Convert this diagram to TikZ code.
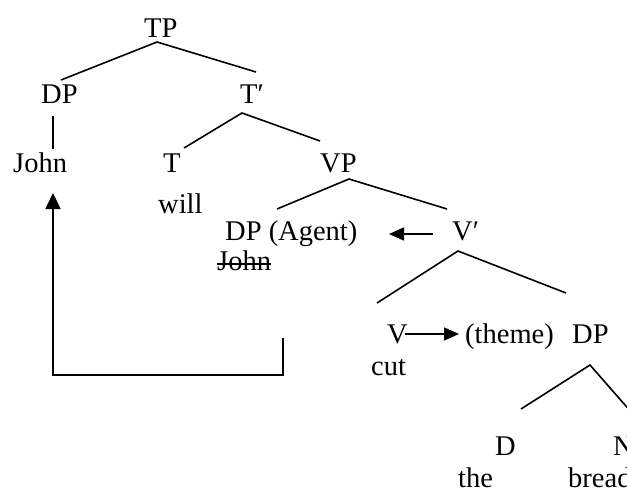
\documentclass[tikz,border=0pt]{standalone}
\usepackage{fontspec}
\setmainfont{Liberation Serif}
\usetikzlibrary{arrows.meta}
\tikzset{
  lab/.style={inner sep=0pt, anchor=base west, font=\fontsize{28.5}{34}\selectfont},
  branch/.style={line width=1.6pt},
  movearrow/.style={line width=1.6pt, -{Triangle[length=15pt,width=13pt]}},
  bigarrow/.style={line width=1.6pt, -{Triangle[length=16pt,width=15pt]}},
}
\begin{document}
\begin{tikzpicture}[x=1pt,y=-1pt]
\path[use as bounding box, clip] (0,0) rectangle (627,490);
\fill[white] (0,0) rectangle (627,490);
% labels
\node[lab] (tp) at (144,37) {TP};
\node[lab] (dp1) at (41,103) {DP};
\node[lab] (tbar) at (240,103) {T′};
\node[lab] (john) at (13,172) {John};
\node[lab] (t) at (163,172) {T};
\node[lab] (will) at (158,213) {will};
\node[lab] (vp) at (320,172) {VP};
\node[lab] (dpag) at (225,240) {DP (Agent)};
\node[lab] (john2) at (217,270) {John};
\node[lab] (vbar) at (452,240) {V′};
\node[lab] (v) at (387,343) {V};
\node[lab] (theme) at (465,343) {(theme)};
\node[lab] (dp3) at (572,343) {DP};
\node[lab] (cut) at (371,375) {cut};
\node[lab] (d) at (495,455) {D};
\node[lab] (the) at (458,487) {the};
\node[lab] (n) at (613,455) {N};
\node[lab] (bread) at (568,487) {bread};
% strike through
\draw[line width=1.3pt] ([yshift=6pt]john2.base west) -- ([yshift=6pt]john2.base east);
% branch points
\coordinate (tpA) at (157,42);
\coordinate (dp1T) at (61,80);
\coordinate (tbarT) at (256,72);
\coordinate (dp1B) at (53,116);
\coordinate (johnT) at (53,149);
\coordinate (tbarA) at (242,113);
\coordinate (tT) at (184,148);
\coordinate (vpT) at (320,141);
\coordinate (vpA) at (349,179);
\coordinate (dpagT) at (277,209);
\coordinate (vbarT) at (447,209);
\coordinate (vbarA) at (458,251);
\coordinate (vbarL) at (377,303);
\coordinate (vbarR) at (566,293);
\coordinate (dp3A) at (590,365);
\coordinate (dL) at (521,409);
\coordinate (nT) at (646,429);
\coordinate (vbarArr) at (433,234);
\coordinate (agArr) at (389,234);
\coordinate (vArr) at (405,334);
\coordinate (themeArr) at (459,334);
\coordinate (brR) at (283,338);
\coordinate (brRB) at (283,375);
\coordinate (brLB) at (53,375);
\coordinate (johnArr) at (53,193);
% branches
\draw[branch] (dp1T) -- (tpA) -- (tbarT);
\draw[branch] (dp1B) -- (johnT);
\draw[branch] (tT) -- (tbarA) -- (vpT);
\draw[branch] (dpagT) -- (vpA) -- (vbarT);
\draw[branch] (vbarL) -- (vbarA) -- (vbarR);
\draw[branch] (dL) -- (dp3A) -- (nT);
% arrows
\draw[movearrow] (vbarArr) -- (agArr);
\draw[movearrow] (vArr) -- (themeArr);
\draw[bigarrow] (brR) -- (brRB) -- (brLB) -- (johnArr);
\end{tikzpicture}
\end{document}
